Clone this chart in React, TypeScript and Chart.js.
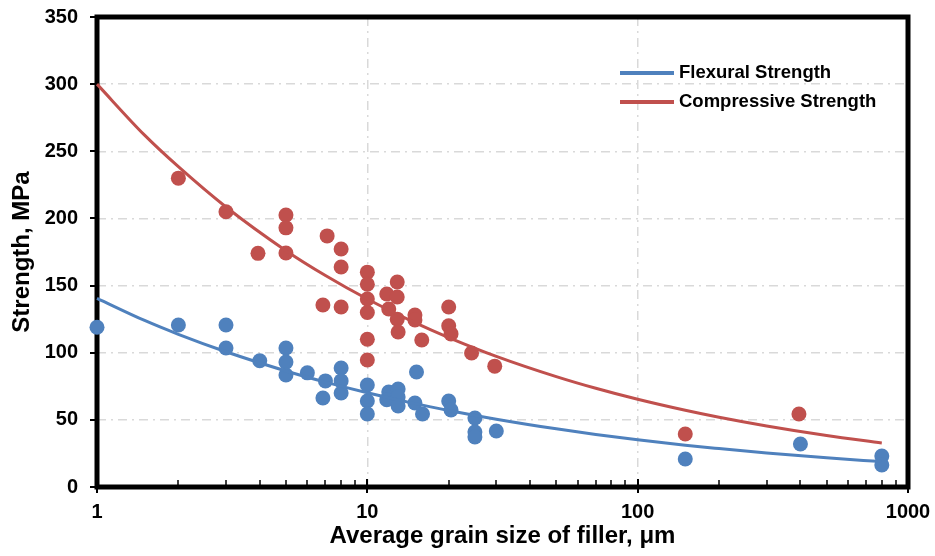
import React, { useEffect, useRef } from 'react';
import { Chart, registerables } from 'chart.js';

Chart.register(...registerables);

// ---- data ----
const seriesNames = ['Flexural Strength', 'Compressive Strength'];

const flexX = [1, 2, 3, 3, 4, 5, 5, 5, 6, 7, 6.85, 8, 8, 8, 10, 10, 10, 12, 11.8, 13, 13, 13, 15, 15.2, 16, 20, 20.4, 25, 25, 25, 30, 150, 400, 800, 800];
const flexY = [119, 120.6, 120.6, 103.5, 94, 103.5, 93, 83.4, 85, 79, 66.3, 88.6, 79, 70, 76, 64, 54.4, 70.7, 65, 73, 67, 60.3, 62.6, 85.6, 54.4, 64, 57.3, 51.4, 41, 37.2, 41.7, 20.9, 32, 23, 16.4];

const compX = [2, 3, 3.94, 5, 5, 5, 6.85, 7.1, 8, 8, 8, 10, 10, 10, 10, 10, 10, 11.8, 12, 12.9, 12.9, 12.9, 13, 15, 15, 15.9, 20, 20, 20.4, 24.3, 29.6, 150, 395];
const compY = [230, 205, 174, 202.6, 193, 174.3, 135.5, 187, 177.2, 163.8, 134, 160, 151, 140, 130, 110, 94.6, 143.7, 132.5, 152.7, 141.5, 125, 115.4, 128, 124.4, 109.5, 134, 120, 114, 99.8, 90, 39.5, 54.4];

const trendX = [1, 1.5, 2, 3, 5, 7, 10, 15, 20, 30, 50, 70, 100, 150, 200, 300, 500, 800];
const flexTrend = [140.5, 124, 113.7, 100.7, 86.4, 78.1, 70.2, 62.1, 57, 50.5, 43.3, 39.1, 35.2, 31.1, 28.6, 25.3, 21.7, 18.9];
const compTrend = [300, 262, 238.5, 208.5, 176, 157.5, 140, 122.4, 111.3, 97.3, 82.2, 73.5, 65.3, 57.1, 51.9, 45.4, 38.3, 32.8];

const xTickValues = [1, 10, 100, 1000];
const xMinorValues = [2, 3, 4, 5, 6, 7, 8, 9, 20, 30, 40, 50, 60, 70, 80, 90, 200, 300, 400, 500, 600, 700, 800, 900];
const yMin = 0;
const yMax = 350;
const yStep = 50;

const BLUE = '#4F81BD';
const RED = '#C0504D';
const FONT = "'Liberation Sans', Arial, sans-serif";

const toPts = (xs: number[], ys: number[]) => xs.map((x, i) => ({ x, y: ys[i] }));

const clearScalePadding = (scale: any) => {
  scale.paddingTop = 0;
  scale.paddingBottom = 0;
  scale.paddingLeft = 0;
  scale.paddingRight = 0;
};

const framePlugin = {
  id: 'frameAndTicks',
  beforeDatasetsDraw(chart: any) {
    const { ctx, chartArea } = chart;
    const { left, right, top, bottom } = chartArea;
    const xs = chart.scales.x;
    const ys = chart.scales.y;
    ctx.save();
    ctx.strokeStyle = '#000';
    ctx.lineWidth = 2;
    for (let v = yMin; v <= yMax; v += yStep) {
      const py = Math.round(ys.getPixelForValue(v));
      ctx.beginPath();
      ctx.moveTo(left - 7, py);
      ctx.lineTo(left, py);
      ctx.stroke();
    }
    xTickValues.forEach((v) => {
      const px = Math.round(xs.getPixelForValue(v));
      ctx.beginPath();
      ctx.moveTo(px, bottom - 8);
      ctx.lineTo(px, bottom + 6);
      ctx.stroke();
    });
    ctx.lineWidth = 1.5;
    xMinorValues.forEach((v) => {
      const px = Math.round(xs.getPixelForValue(v));
      ctx.beginPath();
      ctx.moveTo(px, bottom - 7);
      ctx.lineTo(px, bottom);
      ctx.stroke();
    });
    ctx.lineWidth = 5;
    ctx.lineJoin = 'miter';
    ctx.strokeRect(left, top, right - left, bottom - top);
    ctx.restore();
  },
  afterDraw(chart: any) {
    const { ctx } = chart;
    const colors = [BLUE, RED];
    const ys = [73, 102];
    ctx.save();
    ctx.font = `bold 18.5px ${FONT}`;
    ctx.textBaseline = 'middle';
    ctx.textAlign = 'left';
    seriesNames.forEach((name, i) => {
      ctx.strokeStyle = colors[i];
      ctx.lineWidth = 3.8;
      ctx.beginPath();
      ctx.moveTo(620, ys[i]);
      ctx.lineTo(674, ys[i]);
      ctx.stroke();
      ctx.fillStyle = '#000';
      ctx.fillText(name, 679, ys[i]);
    });
    ctx.restore();
  },
};

export default function App() {
  const ref = useRef<HTMLCanvasElement | null>(null);

  useEffect(() => {
    if (!ref.current) return;
    const gridDash = [9, 5, 2, 5];
    const chart = new Chart(ref.current, {
      type: 'scatter',
      data: {
        datasets: [
          {
            label: seriesNames[0] + ' trend',
            data: toPts(trendX, flexTrend),
            showLine: true,
            borderColor: BLUE,
            borderWidth: 3,
            pointRadius: 0,
            cubicInterpolationMode: 'monotone',
            clip: false,
          } as any,
          {
            label: seriesNames[1] + ' trend',
            data: toPts(trendX, compTrend),
            showLine: true,
            borderColor: RED,
            borderWidth: 3,
            pointRadius: 0,
            cubicInterpolationMode: 'monotone',
            clip: false,
          } as any,
          {
            label: seriesNames[0],
            data: toPts(flexX, flexY),
            backgroundColor: BLUE,
            borderWidth: 0,
            pointRadius: 7.5,
            clip: false,
          } as any,
          {
            label: seriesNames[1],
            data: toPts(compX, compY),
            backgroundColor: RED,
            borderWidth: 0,
            pointRadius: 7.5,
            clip: false,
          } as any,
        ],
      },
      options: {
        animation: false,
        responsive: true,
        maintainAspectRatio: false,
        layout: { padding: { top: 17, right: 27, left: 0, bottom: 0 } },
        plugins: {
          legend: { display: false },
          tooltip: { enabled: false },
        },
        scales: {
          x: {
            type: 'logarithmic',
            min: 1,
            max: 1000,
            afterBuildTicks: (scale: any) => {
              scale.ticks = xTickValues.map((v) => ({ value: v }));
            },
            afterFit: (scale: any) => {
              scale.height = 69;
              clearScalePadding(scale);
            },
            ticks: {
              callback: (v: any) => String(v),
              color: '#000',
              font: { family: FONT, size: 20, weight: 'bold' },
              padding: 13,
              maxRotation: 0,
              autoSkip: false,
            },
            grid: {
              color: (c: any) =>
                c.tick && (c.tick.value === 10 || c.tick.value === 100) ? '#D9D9D9' : 'rgba(0,0,0,0)',
              lineWidth: 1.5,
              drawTicks: false,
            },
            border: { display: false, dash: gridDash },
            title: {
              display: true,
              text: 'Average grain size of filler, μm',
              color: '#000',
              font: { family: FONT, size: 24, weight: 'bold' },
              padding: { top: 0, bottom: 5 },
            },
          },
          y: {
            type: 'linear',
            min: yMin,
            max: yMax,
            afterFit: (scale: any) => {
              scale.width = 97;
              clearScalePadding(scale);
            },
            ticks: {
              stepSize: yStep,
              color: '#000',
              font: { family: FONT, size: 20, weight: 'bold' },
              padding: 19,
            },
            grid: {
              color: (c: any) =>
                c.tick && c.tick.value > yMin && c.tick.value < yMax ? '#D9D9D9' : 'rgba(0,0,0,0)',
              lineWidth: 1.5,
              drawTicks: false,
            },
            border: { display: false, dash: gridDash },
            title: {
              display: true,
              text: 'Strength, MPa',
              color: '#000',
              font: { family: FONT, size: 24, weight: 'bold' },
              padding: { top: 8, bottom: 0 },
            },
          },
        },
      } as any,
      plugins: [framePlugin],
    });
    return () => chart.destroy();
  }, []);

  return (
    <div style={{ position: 'absolute', left: 0, top: 0, width: 935, height: 556, background: '#fff' }}>
      <canvas ref={ref} />
    </div>
  );
}
